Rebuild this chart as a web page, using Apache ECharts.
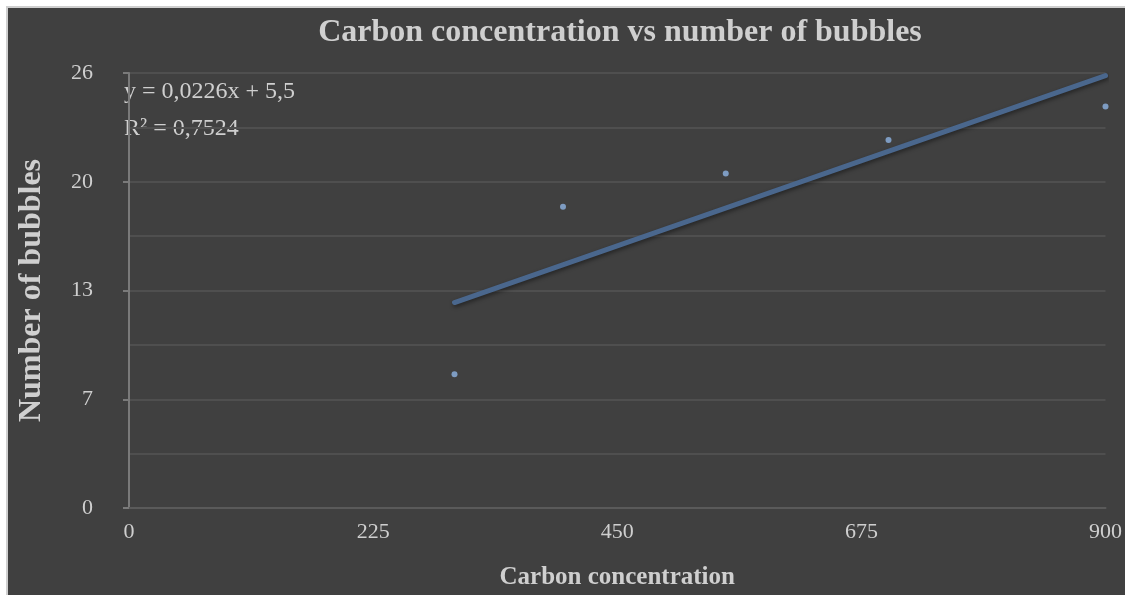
<!DOCTYPE html>
<html>
<head>
<meta charset="utf-8">
<script src="https://cdn.jsdelivr.net/npm/echarts@6/dist/echarts.min.js"></script>
<style>
  html, body { margin: 0; padding: 0; background: #ffffff; overflow: hidden; }
  #chart {
    position: absolute; left: 6px; top: 6px;
    width: 1117px; height: 587px;
    border-left: 2px solid #cfcfcf; border-top: 2px solid #cfcfcf;
  }
</style>
</head>
<body>
<div id="chart"></div>
<script>
// measured points
const carbon = [300, 400, 550, 700, 900];
const bubbles = [8, 18, 20, 22, 24];
// trendline ends (y = 0,0226x + 5,5)
const trendX = [300, 900];
const trendY = [12.28, 25.84];
const equationText = "y = 0,0226x + 5,5";
const rSquaredText = "R\u00b2 = 0,7524";

const points = carbon.map((c, i) => [c, bubbles[i]]);
const trend = trendX.map((x, i) => [x, trendY[i]]);

const serif = "Liberation Serif";
const textCol = "#cfcfcf";

const chart = echarts.init(document.getElementById("chart"));
chart.setOption({
    backgroundColor: "#404040",
    animation: false,
    title: {
        text: "Carbon concentration vs number of bubbles",
        left: 607, top: 4, textAlign: "center",
        textStyle: { fontFamily: serif, fontWeight: "bold", fontSize: 32, color: textCol },
    },
    grid: { left: 116, top: 65, width: 984, height: 442 },
    xAxis: {
        type: "value", min: 0, max: 900, interval: 225,
        name: "Carbon concentration", nameLocation: "middle", nameGap: 57,
        nameTextStyle: { fontFamily: serif, fontWeight: "bold", fontSize: 25, color: textCol },
        axisLine: { show: true, lineStyle: { color: "#5a5a5a", width: 2 } },
        axisTick: { show: false },
        splitLine: { show: false },
        axisLabel: { fontFamily: serif, fontSize: 22, color: textCol, margin: 13 },
    },
    yAxis: {
        type: "value", min: 0, max: 26, interval: 6.5,
        name: "Number of bubbles", nameLocation: "middle", nameGap: 81,
        nameTextStyle: { fontFamily: serif, fontWeight: "bold", fontSize: 32, color: textCol },
        axisLine: { show: true, lineStyle: { color: "#7a7a7a", width: 2 } },
        axisTick: { show: true, inside: false, length: 6, lineStyle: { color: "#7a7a7a", width: 2 } },
        minorTick: { show: false, splitNumber: 2 },
        splitLine: { show: true, lineStyle: { color: "#4f4f4f", width: 2 } },
        minorSplitLine: { show: true, lineStyle: { color: "#4f4f4f", width: 2 } },
        axisLabel: {
            fontFamily: serif, fontSize: 22, color: textCol, margin: 36,
            formatter: v => String(Math.round(v)),
        },
    },
    series: [
        {
            type: "line", data: trend, symbol: "none",
            lineStyle: {
                color: "#4a678d", width: 5, cap: "round",
                shadowColor: "rgba(0,0,0,0.45)", shadowBlur: 4, shadowOffsetX: 1, shadowOffsetY: 2,
            },
            z: 2,
        },
        {
            type: "scatter", data: points, symbolSize: 6,
            itemStyle: { color: "#8db3e2" },
            z: 3,
        },
    ],
    graphic: [
        {
            type: "text", left: 116, top: 72,
            style: { text: equationText, fontFamily: serif, fontSize: 24, fill: textCol },
        },
        {
            type: "text", left: 116, top: 109,
            style: { text: rSquaredText, fontFamily: serif, fontSize: 24, fill: textCol },
        },
    ],
});
</script>
</body>
</html>
